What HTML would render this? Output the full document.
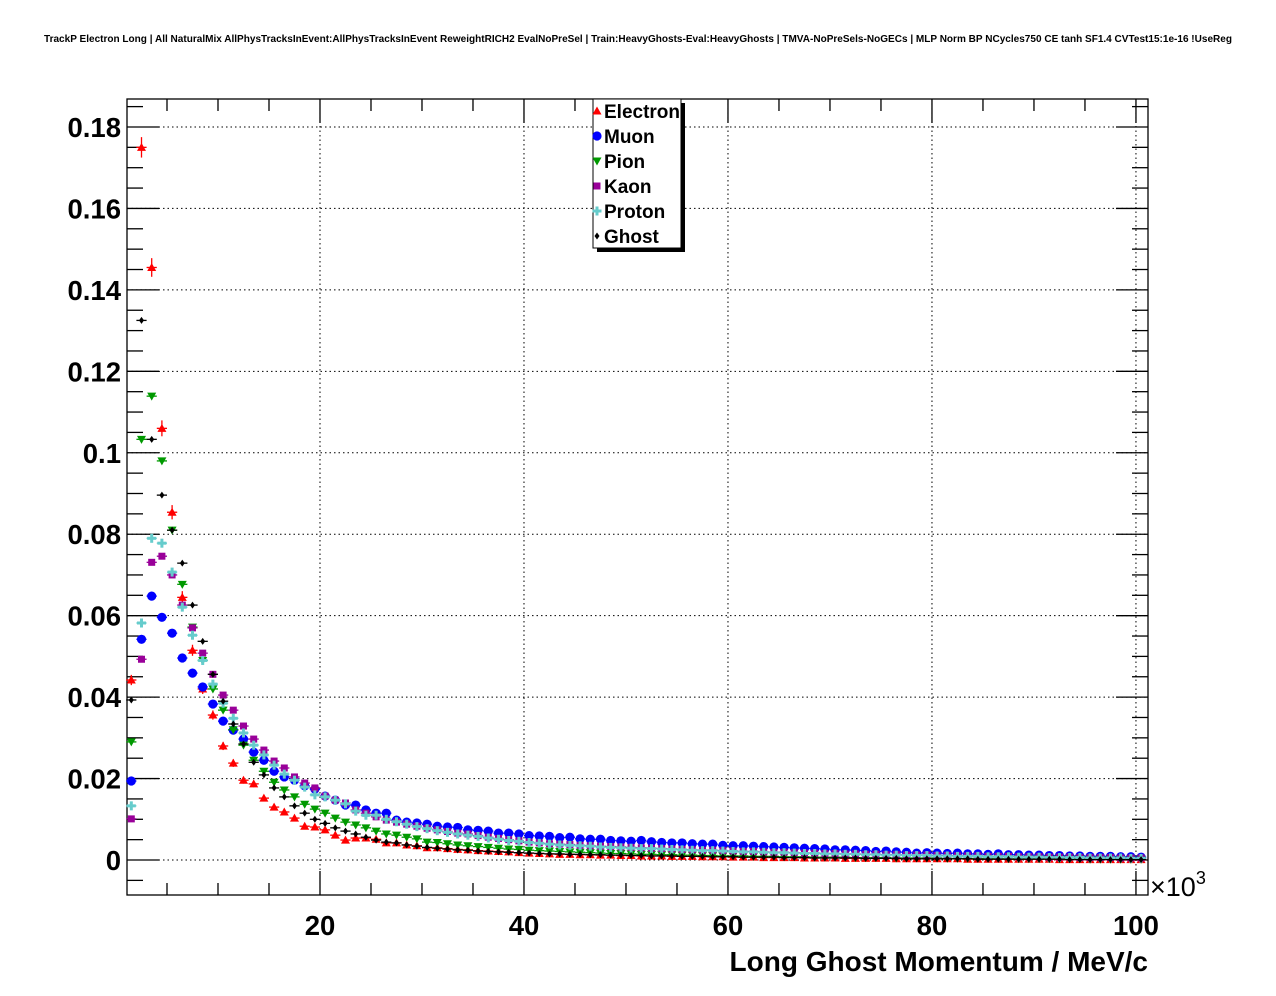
<!DOCTYPE html>
<html><head><meta charset="utf-8"><style>
body{margin:0;background:#fff;}
svg{display:block;font-family:"Liberation Sans",Arial,sans-serif;}
</style></head><body>
<svg id="c" width="1276" height="996"></svg>
<script>
const categories = ["Electron","Muon","Pion","Kaon","Proton","Ghost"];
const yTicks = [0,0.02,0.04,0.06,0.08,0.1,0.12,0.14,0.16,0.18];
const yTickLabels = ["0","0.02","0.04","0.06","0.08","0.1","0.12","0.14","0.16","0.18"];
const xTicks = [20,40,60,80,100];
const xTickLabels = ["20","40","60","80","100"];
const electron = [0.0442,0.1750,0.1455,0.1060,0.0854,0.0645,0.0515,0.0420,0.0356,0.0280,0.0238,0.0196,0.0187,
0.0152,0.0130,0.0118,0.0103,0.0083,0.0081,0.0074,0.0061,0.0049,0.0054,0.0054,0.0051,0.0042,0.0042,0.0037,0.0035,0.0030,
0.0030,0.0028,0.0026,0.0025,0.0023,0.0022,0.0021,0.0020,0.0018,0.0017,0.0016,0.0015,
0.0014,0.0014,0.0013,0.0013,0.0012,0.0012,0.0011,0.0011,0.0010,0.0010,0.0010,0.0009,0.0009,0.0009,0.0008,0.0008,0.0008,0.0007,0.0007,0.0007,
0.0006,0.0006,0.0006,0.0006,0.0005,0.0005,0.0005,0.0005,0.0004,0.0004,0.0004,0.0004,0.0004,0.0003,0.0003,0.0003,0.0003,0.0003,0.0003,0.0003,
0.0002,0.0002,0.0002,0.0002,0.0002,0.0002,0.0002,0.0002,0.0002,0.0001,0.0001,0.0001,0.0001,0.0001,0.0001,0.0001,0.0001,0.0001];
const muon = [0.0194,0.0542,0.0648,0.0596,0.0557,0.0496,0.0459,0.0425,0.0383,0.0341,0.0319,0.0297,0.0265,
0.0245,0.0218,0.0204,0.0196,0.0182,0.0174,0.0157,0.0147,0.0135,0.0135,0.0123,0.0115,0.0115,0.0098,0.0093,0.0091,0.0088,0.0083,0.0081,0.0080,0.0074,0.0073,0.0071,0.0066,0.0066,0.0064,0.0060,0.0059,0.0058,
0.0055,0.0056,0.0052,0.0051,0.0051,0.0048,0.0047,0.0046,0.0048,0.0045,0.0043,0.0042,0.0042,0.0040,0.0039,0.0039,0.0036,0.0035,0.0035,0.0034,
0.0033,0.0032,0.0031,0.0030,0.0029,0.0028,0.0027,0.0025,0.0025,0.0024,0.0023,0.0021,0.0022,0.0020,0.0019,0.0017,0.0018,0.0017,0.0016,0.0017,
0.0015,0.0015,0.0014,0.0015,0.0013,0.0013,0.0012,0.0012,0.0011,0.0011,0.0010,0.0010,0.0009,0.0009,0.0009,0.0008,0.0008,0.0007];
const pion = [0.0290,0.1033,0.1139,0.0980,0.0810,0.0677,0.0572,0.0490,0.0420,0.0368,0.0320,0.0282,0.0245,
0.0218,0.0191,0.0172,0.0155,0.0137,0.0125,0.0115,0.0103,0.0093,0.0086,0.0079,0.0071,0.0064,0.0061,0.0056,0.0052,0.0044,
0.0043,0.0040,0.0037,0.0035,0.0033,0.0031,0.0029,0.0027,0.0026,0.0024,0.0023,0.0022,
0.0021,0.0020,0.0019,0.0018,0.0017,0.0016,0.0016,0.0015,0.0014,0.0014,0.0013,0.0013,0.0012,0.0012,0.0011,0.0011,0.0010,0.0010,0.0010,0.0009,
0.0009,0.0009,0.0008,0.0008,0.0008,0.0007,0.0007,0.0007,0.0007,0.0006,0.0006,0.0006,0.0006,0.0005,0.0005,0.0005,0.0005,0.0005,0.0004,0.0004,
0.0004,0.0004,0.0004,0.0004,0.0003,0.0003,0.0003,0.0003,0.0003,0.0003,0.0003,0.0003,0.0002,0.0002,0.0002,0.0002,0.0002,0.0002];
const kaon = [0.0101,0.0493,0.0731,0.0746,0.0700,0.0626,0.0570,0.0508,0.0456,0.0405,0.0368,0.0329,0.0297,
0.0270,0.0243,0.0226,0.0204,0.0189,0.0177,0.0157,0.0147,0.0140,0.0123,0.0115,0.0106,0.0098,0.0093,0.0088,0.0083,0.0078,
0.0074,0.0070,0.0066,0.0064,0.0060,0.0056,0.0053,0.0050,0.0047,0.0044,0.0042,0.0040,
0.0039,0.0038,0.0036,0.0035,0.0034,0.0033,0.0032,0.0031,0.0030,0.0029,0.0028,0.0027,0.0026,0.0025,0.0024,0.0024,0.0023,0.0022,0.0021,0.0021,
0.0020,0.0019,0.0019,0.0018,0.0017,0.0017,0.0016,0.0016,0.0015,0.0015,0.0014,0.0014,0.0013,0.0013,0.0012,0.0012,0.0012,0.0011,0.0011,0.0010,
0.0010,0.0010,0.0009,0.0009,0.0009,0.0008,0.0008,0.0008,0.0007,0.0007,0.0007,0.0006,0.0006,0.0006,0.0006,0.0005,0.0005,0.0005];
const proton = [0.0133,0.0582,0.0790,0.0778,0.0707,0.0621,0.0552,0.0490,0.0432,0.0385,0.0348,0.0312,0.0282,
0.0258,0.0233,0.0211,0.0196,0.0179,0.0160,0.0155,0.0147,0.0138,0.0120,0.0110,0.0110,0.0100,0.0094,0.0088,0.0082,0.0077,
0.0072,0.0068,0.0064,0.0061,0.0058,0.0054,0.0051,0.0048,0.0046,0.0043,0.0041,0.0039,
0.0037,0.0036,0.0035,0.0034,0.0032,0.0031,0.0030,0.0029,0.0028,0.0028,0.0027,0.0026,0.0025,0.0024,0.0023,0.0023,0.0022,0.0021,0.0020,0.0020,
0.0019,0.0018,0.0018,0.0017,0.0016,0.0016,0.0015,0.0015,0.0014,0.0014,0.0013,0.0013,0.0012,0.0012,0.0011,0.0011,0.0011,0.0010,0.0010,0.0009,
0.0009,0.0009,0.0008,0.0008,0.0008,0.0007,0.0007,0.0007,0.0006,0.0006,0.0006,0.0006,0.0005,0.0005,0.0005,0.0005,0.0004,0.0004];
const ghost = [0.0393,0.1325,0.1033,0.0896,0.0810,0.0729,0.0626,0.0537,0.0456,0.0390,0.0334,0.0285,0.0240,
0.0209,0.0177,0.0155,0.0133,0.0115,0.0100,0.0090,0.0079,0.0071,0.0064,0.0056,0.0049,0.0044,0.0042,0.0037,0.0034,0.0031,
0.0029,0.0027,0.0025,0.0024,0.0022,0.0021,0.0020,0.0019,0.0018,0.0017,0.0016,0.0015,
0.0015,0.0014,0.0014,0.0013,0.0013,0.0012,0.0012,0.0011,0.0011,0.0010,0.0010,0.0010,0.0009,0.0009,0.0009,0.0008,0.0008,0.0008,0.0007,0.0007,
0.0007,0.0007,0.0006,0.0006,0.0006,0.0005,0.0005,0.0005,0.0005,0.0005,0.0004,0.0004,0.0004,0.0004,0.0003,0.0003,0.0003,0.0003,0.0003,0.0003,
0.0003,0.0002,0.0002,0.0002,0.0002,0.0002,0.0002,0.0002,0.0002,0.0002,0.0001,0.0001,0.0001,0.0001,0.0001,0.0001,0.0001,0.0001];

const NS="http://www.w3.org/2000/svg";
const svg=document.getElementById('c');
function el(tag,attrs,parent){const e=document.createElementNS(NS,tag);for(const k in attrs)e.setAttribute(k,attrs[k]);(parent||svg).appendChild(e);return e;}
const L=127,R=1148,T=99,B=895;
const xMin=1.0784,xMax=101.18,yMin=-0.00859,yMax=0.18687;
function X(v){return L+(v-xMin)/(xMax-xMin)*(R-L);}
function Y(v){return B-(v-yMin)/(yMax-yMin)*(B-T);}

const title=el('text',{x:638,y:42,'text-anchor':'middle','font-size':10,'font-weight':'bold',textLength:1188,lengthAdjust:'spacingAndGlyphs'});


title.textContent="TrackP Electron Long | All NaturalMix AllPhysTracksInEvent:AllPhysTracksInEvent ReweightRICH2 EvalNoPreSel | Train:HeavyGhosts-Eval:HeavyGhosts | TMVA-NoPreSels-NoGECs | MLP Norm BP NCycles750 CE tanh SF1.4 CVTest15:1e-16 !UseReg";

const grid=el('g',{});


yTicks.forEach(t=>{el('line',{x1:L,x2:R,y1:Y(t),y2:Y(t),stroke:'#000','stroke-width':1,'stroke-dasharray':'1.5,3'},grid);});
xTicks.forEach(t=>{el('line',{x1:X(t),x2:X(t),y1:T,y2:B,stroke:'#000','stroke-width':1,'stroke-dasharray':'1.5,3'},grid);});

const ax=el('g',{stroke:'#000','stroke-width':1.3});


for(let v=-0.005;v<=0.186;v+=0.005){
  const major=Math.abs(Math.round(v/0.02)*0.02-v)<1e-6;
  const len=major?32:16;const y=Y(v);
  el('line',{x1:L,x2:L+len,y1:y,y2:y},ax);
  el('line',{x1:R,x2:R-len,y1:y,y2:y},ax);
}
for(let v=5;v<=100;v+=5){
  const major=v%20===0;const len=major?24:12;const x=X(v);
  el('line',{x1:x,x2:x,y1:B,y2:B-len},ax);
  el('line',{x1:x,x2:x,y1:T,y2:T+len},ax);
}
el('rect',{x:L,y:T,width:R-L,height:B-T,fill:'none',stroke:'#000','stroke-width':1.3},ax);

yTicks.forEach((t,i)=>{
  const tx=el('text',{x:121,y:Y(t)+10,'text-anchor':'end','font-size':27.5,'font-weight':'bold'});
  
  
  tx.textContent=yTickLabels[i];
});
xTicks.forEach((t,i)=>{
  const tx=el('text',{x:X(t),y:935,'text-anchor':'middle','font-size':27.5,'font-weight':'bold'});
  
  
  tx.textContent=xTickLabels[i];
});
const mult=el('text',{x:1150,y:896,'font-size':27,'font-weight':'normal'});


mult.innerHTML='×10<tspan dy="-12" font-size="18">3</tspan>';
const xl=el('text',{x:1148,y:971,'text-anchor':'end','font-size':28,'font-weight':'bold'});


xl.textContent="Long Ghost Momentum / MeV/c";

const colors={Electron:'#ff0000',Muon:'#0000ff',Pion:'#009900',Kaon:'#990099',Proton:'#66cccc',Ghost:'#000000'};
const seriesData={Electron:electron,Muon:muon,Pion:pion,Kaon:kaon,Proton:proton,Ghost:ghost};
const errScale={Electron:0.006,Muon:0.0012,Pion:0.0015,Kaon:0.0012,Proton:0.0012,Ghost:0.0012};
function marker(name,x,y,g,c){
  if(name==='Electron')el('polygon',{points:`${x},${y-4.5} ${x-4.5},${y+3.5} ${x+4.5},${y+3.5}`,fill:c},g);
  else if(name==='Muon')el('circle',{cx:x,cy:y,r:4.6,fill:c},g);
  else if(name==='Pion')el('polygon',{points:`${x},${y+4.5} ${x-4.5},${y-3.5} ${x+4.5},${y-3.5}`,fill:c},g);
  else if(name==='Kaon')el('rect',{x:x-3.5,y:y-3.5,width:7,height:7,fill:c},g);
  else if(name==='Proton'){el('rect',{x:x-4.5,y:y-1.5,width:9,height:3,fill:c},g);el('rect',{x:x-1.5,y:y-4.5,width:3,height:9,fill:c},g);}
  else el('polygon',{points:`${x},${y-3.5} ${x-2.5},${y} ${x},${y+3.5} ${x+2.5},${y}`,fill:c},g);
}
categories.forEach(name=>{
  const g=el('g',{});
  
  
  const c=colors[name];const d=seriesData[name];
  d.forEach((v,i)=>{
    const xc=1.5+i;const x=X(xc),y=Y(v);
    const e=errScale[name]*Math.sqrt(v);
    el('line',{x1:X(xc-0.5),x2:X(xc+0.5),y1:y,y2:y,stroke:c,'stroke-width':1.3},g);
    el('line',{x1:x,x2:x,y1:Y(v+e),y2:Y(v-e),stroke:c,'stroke-width':1.3},g);
    marker(name,x,y,g,c);
  });
});

const lg=el('g',{});


el('rect',{x:597,y:103,width:88,height:149,fill:'#000'},lg);
el('rect',{x:593,y:99,width:88,height:149,fill:'#fff',stroke:'#000','stroke-width':1},lg);
categories.forEach((name,i)=>{
  const y=111+25*i;
  const it=el('g',{},lg);
  
  
  marker(name,597,y,it,colors[name]);
  const t=el('text',{x:604,y:y+7,'font-size':19,'font-weight':'bold'},it);
  t.textContent=name;
});
</script>
</body></html>
